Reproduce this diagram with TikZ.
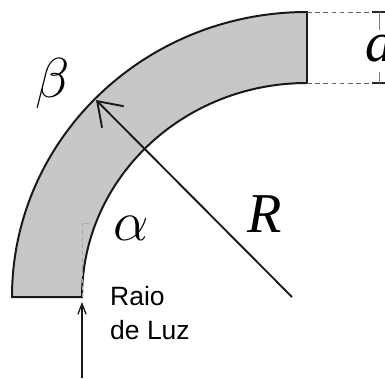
\RequirePackage{fix-cm}
\documentclass[tikz,border=0pt]{standalone}
\usepackage{fontspec}
\usepackage{amsmath}
\usetikzlibrary{arrows.meta}
\newfontfamily\luzfont{Liberation Sans}
\newfontfamily\timesfont{Liberation Serif}

\begin{document}
\begin{tikzpicture}[
    x=0.03cm, y=-0.03cm,
    % Style pour la fibre courbée (anneau gris)
    fibra/.style={draw=black!90, line width=1.7pt, fill=black!22},
    % Style pour les lettres grecques et le rayon
    bignode/.style={inner sep=0pt, font=\fontsize{48}{52}\selectfont},
    % Style pour le texte du rayon de lumière
    luznode/.style={inner sep=0pt, anchor=base west, align=left,
        font=\luzfont\fontsize{22.6}{29}\selectfont},
    % Style pour les lignes de cote
    cota/.style={draw=black!60, dash pattern=on 4pt off 3pt, line width=0.7pt},
    cotabar/.style={draw=black!85, line width=1.6pt},
    % Style pour les flèches
    raio/.style={draw=black!90, line width=1.6pt, -{Straight Barb[length=19pt,width=26pt]}},
    luzseta/.style={draw=black!90, line width=1.1pt, -{Straight Barb[length=9pt,width=7pt]}}
]
\useasboundingbox (0,0) rectangle (385,378);

% Anneau (centre en C)
\coordinate (C) at (307,297);
\path[fibra] (12,297) arc[start angle=180, end angle=270, x radius=295, y radius=285]
    -- (307,83) arc[start angle=270, end angle=180, x radius=225, y radius=214] -- cycle;

% Tangente pointillée
\coordinate (tanA) at (82,297);
\coordinate (tanB) at (82,223);
\coordinate (tanC) at (90,223);
\draw[draw=black!35, dashed, line width=0.5pt] (tanA) -- (tanB) -- (tanC);

% Cote a
\coordinate (a1) at (307,12);
\coordinate (a2) at (307,83);
\coordinate (a1e) at (372,12);
\coordinate (a2e) at (372,83);
\draw[cota] (a1) -- (a1e);
\draw[cota] (a2) -- (a2e);
\draw[cotabar] (a1e) -- ++(14,0);
\draw[cotabar] (a2e) -- ++(14,0);
\draw[draw=black!50, line width=0.8pt] (379,12) -- (379,30);
\draw[draw=black!50, line width=0.8pt] (379,72) -- (379,83);

% Rayon R
\coordinate (Rpe) at (292,297);
\coordinate (Rtopo) at (96,100);
\draw[raio] (Rpe) -- (Rtopo);

% Rayon de lumière
\coordinate (luzA) at (82,378);
\coordinate (luzB) at (82,302);
\draw[luzseta] (luzA) -- (luzB);

% Étiquettes
\node[bignode] (beta) at (53,83) {$\beta$};
\node[bignode] (alpha) at (131,228) {$\alpha$};
\node[bignode, font=\timesfont\itshape\fontsize{48}{52}\selectfont] (R) at (265,214) {R};
\node[bignode, font=\timesfont\itshape\fontsize{48}{52}\selectfont] (a) at (380,49) {a};
\node[luznode] (luz) at (110,339) {Raio\\de Luz};

\end{tikzpicture}
\end{document}
